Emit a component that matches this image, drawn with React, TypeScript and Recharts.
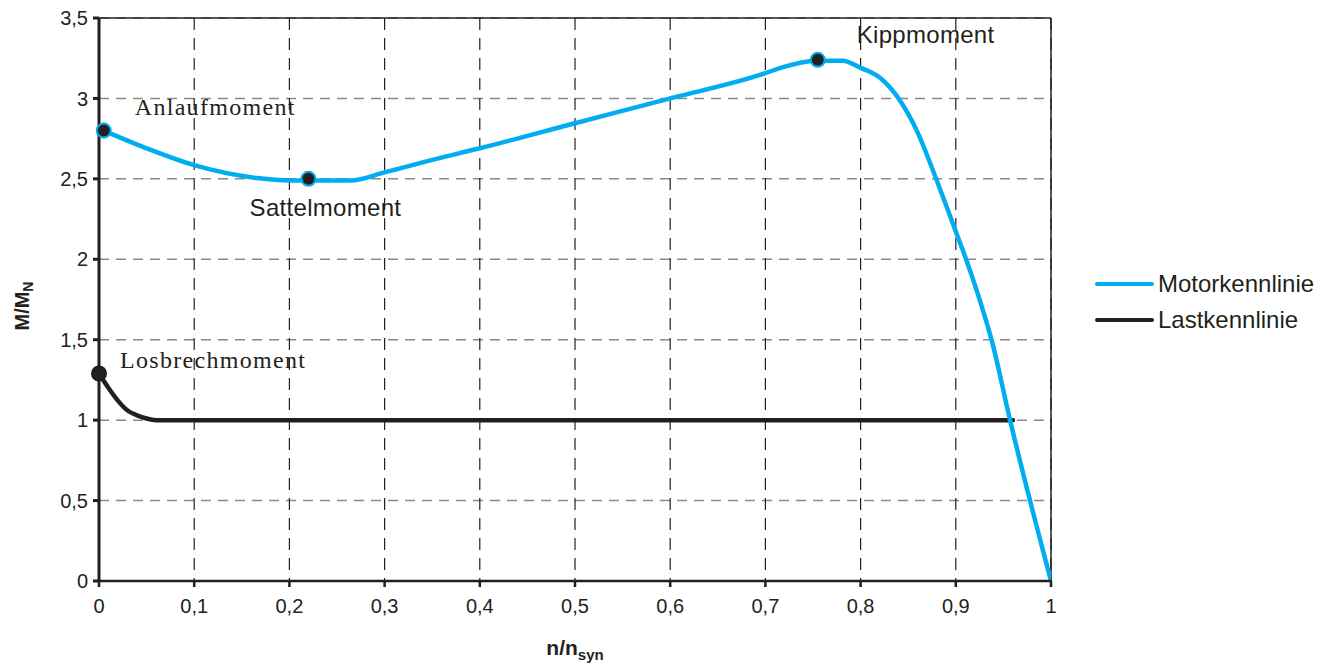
import React from 'react';
import { LineChart, Line, XAxis, YAxis, CartesianGrid, ReferenceLine, ReferenceDot } from 'recharts';

// speed ratio n/nsyn and torque ratio M/MN
const motorSpeed = [0.005, 0.05, 0.1, 0.166, 0.2, 0.264, 0.3, 0.348, 0.4, 0.5, 0.6, 0.7, 0.716, 0.753, 0.781, 0.8, 0.82, 0.841, 0.859, 0.88, 0.897, 0.912, 0.925, 0.938, 0.957, 1];
const motorTorque = [2.8, 2.69, 2.585, 2.505, 2.49, 2.49, 2.54, 2.615, 2.69, 2.846, 3.0, 3.157, 3.19, 3.235, 3.235, 3.19, 3.13, 2.99, 2.8, 2.49, 2.22, 1.98, 1.75, 1.49, 1.0, 0];

const loadSpeed = [0, 0.01, 0.02, 0.03, 0.04, 0.05, 0.06, 0.2, 0.5, 0.8, 0.96];
const loadTorque = [1.29, 1.2, 1.12, 1.06, 1.03, 1.01, 1.0, 1.0, 1.0, 1.0, 1.0];

const xTicks = [0, 0.1, 0.2, 0.3, 0.4, 0.5, 0.6, 0.7, 0.8, 0.9, 1];
const yTicks = [0, 0.5, 1, 1.5, 2, 2.5, 3, 3.5];

const markNames = ['Anlaufmoment', 'Sattelmoment', 'Kippmoment', 'Losbrechmoment'];
const markSpeed = [0.005, 0.22, 0.755, 0];
const markTorque = [2.8, 2.5, 3.24, 1.29];
const markSeries = ['motor', 'motor', 'motor', 'load'];

const motorData = motorSpeed.map((x, i) => ({ x, y: motorTorque[i] }));
const loadData = loadSpeed.map((x, i) => ({ x, y: loadTorque[i] }));

const BLUE = '#00aeef';
const BLACK = '#231f20';
const SANS = '"Liberation Sans", Arial, sans-serif';
const SERIF = '"Liberation Serif", "Times New Roman", serif';

// label placement relative to the dot
const labelStyle: Record<string, { dx: number; dy: number; font: string; anchor: string }> = {
  Anlaufmoment: { dx: 31, dy: -24, font: SERIF, anchor: 'start' },
  Sattelmoment: { dx: 17, dy: 29, font: SANS, anchor: 'middle' },
  Kippmoment: { dx: 39, dy: -25, font: SANS, anchor: 'start' },
  Losbrechmoment: { dx: 21, dy: -13, font: SERIF, anchor: 'start' },
};

const fmt = (v: number) => String(Math.round(v * 10) / 10).replace('.', ',');

const MarkLabel = (props: any) => {
  const { viewBox, value } = props;
  const s = labelStyle[value];
  const cx = viewBox.x + viewBox.width / 2;
  const cy = viewBox.y + viewBox.height / 2;
  const serif = s.font === SERIF;
  return (
    <text x={cx + s.dx} y={cy + s.dy} textAnchor={s.anchor} dominantBaseline="central"
      fontFamily={s.font} fontSize={24} letterSpacing={serif ? 1.3 : 0.3} fill={BLACK}>
      {value}
    </text>
  );
};

const YLabel = () => (
  <text transform="translate(29,306) rotate(-90)" textAnchor="middle" fontFamily={SANS} fontSize={20} fontWeight="bold" fill={BLACK}>
    M/M<tspan fontSize={14} dy={4}>N</tspan>
  </text>
);

const XLabel = () => (
  <text x={575} y={655} textAnchor="middle" fontFamily={SANS} fontSize={21} fontWeight="bold" fill={BLACK}>
    n/n<tspan fontSize={15} dy={5}>syn</tspan>
  </text>
);

const LegendBox = () => (
  <g>
    <line x1={1097} y1={284} x2={1152} y2={284} stroke={BLUE} strokeWidth={4} strokeLinecap="round" />
    <text x={1158} y={292} fontFamily={SANS} fontSize={24} fill={BLACK}>Motorkennlinie</text>
    <line x1={1097} y1={320} x2={1152} y2={320} stroke={BLACK} strokeWidth={4} strokeLinecap="round" />
    <text x={1158} y={328} fontFamily={SANS} fontSize={24} fill={BLACK}>Lastkennlinie</text>
  </g>
);

export default function App() {
  return (
    <div style={{ position: 'absolute', left: 0, top: 0, background: '#fff' }}>
      <LineChart width={1330} height={667} margin={{ top: 18, right: 279, bottom: 0, left: 0 }}>
        <CartesianGrid horizontal vertical={false} stroke="#8a8a8a" strokeDasharray="10 7" strokeWidth={1.5} />
        <CartesianGrid horizontal={false} vertical stroke={BLACK} strokeDasharray="12 8" strokeWidth={1.2} />
        <XAxis type="number" dataKey="x" domain={[0, 1]} ticks={xTicks} tickFormatter={fmt} height={86}
          stroke={BLACK} strokeWidth={2.5} tickSize={6} tick={{ fontFamily: SANS, fontSize: 20, fill: BLACK, dy: 10 }} allowDataOverflow />
        <YAxis type="number" dataKey="y" domain={[0, 3.5]} ticks={yTicks} tickFormatter={fmt} width={99}
          stroke={BLACK} strokeWidth={3} tickSize={6} tick={{ fontFamily: SANS, fontSize: 20, fill: BLACK, dx: -3 }} allowDataOverflow />
        <ReferenceLine y={3.5} stroke={BLACK} strokeWidth={1.5} />
        <ReferenceLine x={1} stroke={BLACK} strokeWidth={1.5} />
        <Line data={loadData} dataKey="y" name="Lastkennlinie" type="monotone" stroke={BLACK} strokeWidth={4.5}
          dot={false} isAnimationActive={false} strokeLinecap="round" />
        <Line data={motorData} dataKey="y" name="Motorkennlinie" type="monotone" stroke={BLUE} strokeWidth={4.5}
          dot={false} isAnimationActive={false} />
        {markNames.map((name, i) => (
          <ReferenceDot key={name} x={markSpeed[i]} y={markTorque[i]} r={7}
            fill={BLACK} stroke={markSeries[i] === 'motor' ? BLUE : BLACK} strokeWidth={2}
            label={<MarkLabel value={name} />} ifOverflow="visible" />
        ))}
        <LegendBox />
        <YLabel />
        <XLabel />
      </LineChart>
    </div>
  );
}
